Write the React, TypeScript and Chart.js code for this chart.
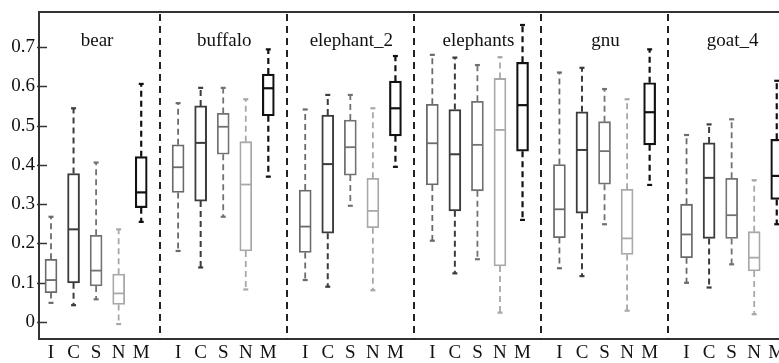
import React, { useEffect, useRef } from "react";
import { Chart, registerables } from "chart.js";

Chart.register(...registerables);

const panels = ["bear", "buffalo", "elephant_2", "elephants", "gnu", "goat_4"];
const methods = ["I", "C", "S", "N", "M"];
const yTicks = [0, 0.1, 0.2, 0.3, 0.4, 0.5, 0.6, 0.7];

// five-number summaries [min, q1, median, q3, max], one per panel
const statsI = [
  [0.049, 0.075, 0.107, 0.16, 0.268],
  [0.181, 0.33, 0.394, 0.451, 0.557],
  [0.107, 0.177, 0.243, 0.336, 0.541],
  [0.207, 0.349, 0.455, 0.554, 0.68],
  [0.137, 0.215, 0.287, 0.401, 0.635],
  [0.1, 0.164, 0.223, 0.3, 0.476],
];
const statsC = [
  [0.043, 0.1, 0.236, 0.378, 0.544],
  [0.139, 0.308, 0.456, 0.55, 0.596],
  [0.09, 0.226, 0.402, 0.527, 0.578],
  [0.124, 0.283, 0.427, 0.541, 0.673],
  [0.117, 0.277, 0.438, 0.535, 0.647],
  [0.088, 0.213, 0.367, 0.456, 0.503],
];
const statsS = [
  [0.058, 0.092, 0.131, 0.221, 0.406],
  [0.268, 0.427, 0.497, 0.531, 0.596],
  [0.296, 0.374, 0.445, 0.514, 0.578],
  [0.16, 0.334, 0.451, 0.562, 0.654],
  [0.249, 0.351, 0.435, 0.51, 0.593],
  [0.147, 0.213, 0.272, 0.366, 0.516],
];
const statsN = [
  [-0.005, 0.045, 0.073, 0.122, 0.236],
  [0.083, 0.181, 0.35, 0.459, 0.567],
  [0.081, 0.24, 0.283, 0.366, 0.544],
  [0.024, 0.143, 0.489, 0.62, 0.674],
  [0.029, 0.172, 0.213, 0.338, 0.567],
  [0.02, 0.13, 0.164, 0.23, 0.361],
];
const statsM = [
  [0.255, 0.291, 0.33, 0.421, 0.606],
  [0.37, 0.525, 0.595, 0.631, 0.694],
  [0.395, 0.474, 0.544, 0.613, 0.677],
  [0.26, 0.435, 0.552, 0.661, 0.756],
  [0.349, 0.451, 0.534, 0.609, 0.694],
  [0.249, 0.312, 0.372, 0.465, 0.614],
];

const allStats = [statsI, statsC, statsS, statsN, statsM];
const methodColors = ["#6a6a6a", "#3c3c3c", "#727272", "#a8a8a8", "#111111"];
const methodWidths = [1.8, 2, 1.8, 1.8, 2.2];

const PANEL_STEP = 5.636;
const pos = (p: number, m: number) => p * PANEL_STEP + m;
const FONT = "'Liberation Serif', 'DejaVu Serif', serif";

const decorPlugin = {
  id: "decor",
  beforeDatasetsDraw(chart: any) {
    const { ctx, chartArea, scales } = chart;
    const xs = scales.x;
    const ys = scales.y;
    ctx.save();
    // top border
    ctx.strokeStyle = "#333";
    ctx.lineWidth = 2;
    ctx.beginPath();
    ctx.moveTo(chartArea.left, chartArea.top);
    ctx.lineTo(chartArea.right + 10, chartArea.top);
    ctx.stroke();
    // inward y ticks
    ctx.lineWidth = 1.5;
    yTicks.forEach((v) => {
      const y = Math.round(ys.getPixelForValue(v)) + 0.5;
      ctx.beginPath();
      ctx.moveTo(chartArea.left - 2, y);
      ctx.lineTo(chartArea.left + 8, y);
      ctx.stroke();
    });
    // panel separators
    ctx.strokeStyle = "#222";
    ctx.lineWidth = 2;
    ctx.setLineDash([7, 5]);
    for (let p = 0; p < panels.length - 1; p++) {
      const xv = pos(p, methods.length - 1) + (PANEL_STEP - (methods.length - 1)) / 2;
      const x = Math.round(xs.getPixelForValue(xv));
      ctx.beginPath();
      ctx.moveTo(x, chartArea.top + 2);
      ctx.lineTo(x, chartArea.bottom);
      ctx.stroke();
    }
    ctx.setLineDash([]);
    // panel titles
    ctx.fillStyle = "#111";
    ctx.font = `19px ${FONT}`;
    ctx.textAlign = "center";
    ctx.textBaseline = "alphabetic";
    panels.forEach((name, p) => {
      const x = xs.getPixelForValue(pos(p, 2));
      ctx.fillText(name, x + 1, chartArea.top + 34);
    });
    ctx.restore();
  },
};

export default function App() {
  const ref = useRef<HTMLCanvasElement | null>(null);

  useEffect(() => {
    document.body.style.margin = "0";
    document.documentElement.style.overflow = "hidden";
    if (!ref.current) return;
    const datasets: any[] = [];
    allStats.forEach((stats, m) => {
      const color = methodColors[m];
      const w = methodWidths[m];
      datasets.push({
        type: "bar",
        data: stats.map((s, p) => ({ x: pos(p, m), y: [s[1], s[3]] })),
        backgroundColor: "#ffffff",
        borderColor: color,
        borderWidth: w,
        borderSkipped: false,
        barThickness: 12,
        grouped: false,
        order: 3,
      });
      const whisk: any[] = [];
      stats.forEach((s, p) => {
        const x = pos(p, m);
        whisk.push({ x, y: s[3] }, { x, y: s[4] }, { x, y: null });
        whisk.push({ x, y: s[1] }, { x, y: s[0] }, { x, y: null });
      });
      datasets.push({
        type: "line",
        data: whisk,
        borderColor: color,
        borderWidth: w,
        borderDash: [6, 4],
        pointRadius: 0,
        fill: false,
        spanGaps: false,
        order: 2,
      });
      const caps: any[] = [];
      stats.forEach((s, p) => {
        caps.push({ x: pos(p, m), y: s[0] }, { x: pos(p, m), y: s[4] });
      });
      datasets.push({
        type: "line",
        data: caps,
        showLine: false,
        pointStyle: "line",
        pointRadius: 2.5,
        pointBorderWidth: 2.2,
        pointBorderColor: color,
        borderColor: color,
        order: 1,
      });
      datasets.push({
        type: "line",
        data: stats.map((s, p) => ({ x: pos(p, m), y: s[2] })),
        showLine: false,
        pointStyle: "line",
        pointRadius: 5.5,
        pointBorderWidth: w,
        pointBorderColor: color,
        borderColor: color,
        order: 0,
      });
    });

    const chart = new Chart(ref.current, {
      type: "bar",
      data: { datasets },
      options: {
        animation: false,
        responsive: false,
        events: [],
        layout: { autoPadding: false, padding: { top: 4, right: 0, left: 0, bottom: 0 } },
        plugins: { legend: { display: false }, tooltip: { enabled: false } },
        scales: {
          x: {
            type: "linear",
            offset: false,
            min: -0.532,
            max: 32.28,
            grid: { display: false, drawTicks: false, offset: false },
            border: { display: true, color: "#333", width: 2 },
            afterBuildTicks: (axis: any) => {
              axis.ticks = panels.flatMap((_, p) => methods.map((__, m) => ({ value: pos(p, m) })));
            },
            afterFit: (axis: any) => {
              axis.height = 24;
              axis.paddingLeft = 0;
              axis.paddingRight = 0;
            },
            ticks: {
              autoSkip: false,
              maxRotation: 0,
              padding: 3,
              color: "#111",
              font: { family: FONT, size: 19 },
              callback: (_v: any, i: number) => methods[i % methods.length],
            },
          },
          y: {
            type: "linear",
            min: -0.043,
            max: 0.789,
            grid: { display: false, drawTicks: false },
            border: { display: true, color: "#333", width: 2 },
            afterBuildTicks: (axis: any) => {
              axis.ticks = yTicks.map((v) => ({ value: v }));
            },
            afterFit: (axis: any) => {
              axis.width = 31;
              axis.paddingTop = 0;
              axis.paddingBottom = 0;
            },
            ticks: {
              padding: 4,
              color: "#111",
              font: { family: FONT, size: 19 },
              callback: (v: any) => (v === 0 ? "0" : Number(v).toFixed(1)),
            },
          },
        },
      },
      plugins: [decorPlugin],
    });
    return () => chart.destroy();
  }, []);

  return (
    <div style={{ width: 771, height: 355, paddingLeft: 8, paddingTop: 8, overflow: "hidden" }}>
      <canvas ref={ref} width={771} height={355} style={{ display: "block" }} />
    </div>
  );
}
